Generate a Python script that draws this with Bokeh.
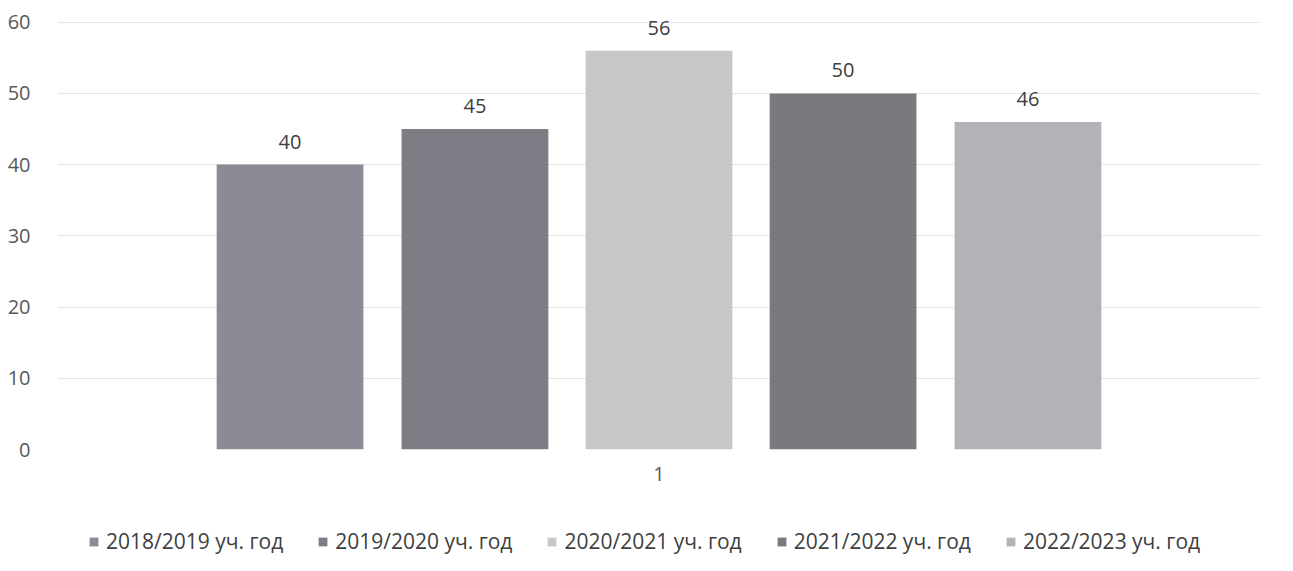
from bokeh.plotting import figure
from bokeh.models import ColumnDataSource, FactorRange, Range1d, FixedTicker, Legend
from bokeh.layouts import column
from bokeh.transform import dodge
from bokeh.core.properties import value
from bokeh.embed import file_html
from bokeh.resources import INLINE

categories = ["1"]
series_names = ["2018/2019 уч. год", "2019/2020 уч. год", "2020/2021 уч. год",
                "2021/2022 уч. год", "2022/2023 уч. год"]
series_values = [40, 45, 56, 50, 46]
y_ticks = [0, 10, 20, 30, 40, 50, 60]
colors = ["#8a8b94", "#7c7d85", "#c6c8c8", "#797a80", "#b1b3b6"]
offsets = [-0.3067, -0.153, 0.0, 0.153, 0.3067]
bar_width = 0.122

FONT = "Open Sans"

p = figure(width=1277, height=505, output_backend="svg", toolbar_location=None,
           x_range=FactorRange(factors=categories, range_padding=0),
           y_range=Range1d(0, 61.5),
           min_border_left=57, min_border_right=17, min_border_top=11, min_border_bottom=56)
p.outline_line_color = None
p.background_fill_color = "white"
p.border_fill_color = "white"

for i, (name, val) in enumerate(zip(series_names, series_values)):
    src = ColumnDataSource(dict(cat=categories, v=[val], lbl=[str(val)]))
    x = dodge("cat", offsets[i], range=p.x_range)
    p.vbar(x=x, top="v", width=bar_width, source=src, fill_color=colors[i],
           line_color=None)
    p.text(x=x, y="v", text="lbl", source=src, y_offset=-23, text_align="center",
           text_baseline="middle", text_font=value(FONT), text_font_size="20px",
           text_color="#404040")

p.yaxis.ticker = FixedTicker(ticks=y_ticks)
p.yaxis.axis_line_color = None
p.yaxis.major_tick_line_color = None
p.yaxis.minor_tick_line_color = None
p.yaxis.major_label_standoff = 21
p.yaxis.major_label_text_font = FONT
p.yaxis.major_label_text_font_size = "20px"
p.yaxis.major_label_text_color = "#595959"

p.xaxis.axis_line_color = None
p.xaxis.major_tick_line_color = None
p.xaxis.minor_tick_line_color = None
p.xaxis.major_tick_out = 0
p.xaxis.major_label_standoff = 17
p.xaxis.major_label_text_font = FONT
p.xaxis.major_label_text_font_size = "20px"
p.xaxis.major_label_text_color = "#595959"

p.xgrid.grid_line_color = None
p.ygrid.grid_line_color = "#e4e4e4"
p.ygrid.grid_line_width = 1

# legend strip below the chart (swatch renderers are hidden; legend still draws them)
p2 = figure(width=1277, height=50, output_backend="svg", toolbar_location=None,
            x_range=Range1d(0, 1), y_range=Range1d(0, 1),
            x_axis_location=None, y_axis_location=None,
            min_border_left=0, min_border_right=0, min_border_top=0, min_border_bottom=0)
p2.outline_line_color = None
p2.xgrid.grid_line_color = None
p2.ygrid.grid_line_color = None
p2.border_fill_color = "white"
items = []
for i, (name, val) in enumerate(zip(series_names, series_values)):
    src = ColumnDataSource(dict(x=[0.5], v=[val]))
    r = p2.vbar(x="x", top="v", width=0.1, source=src, fill_color=colors[i], line_color=None)
    r.visible = False
    items.append((name, [r]))

leg = Legend(items=items, orientation="horizontal", location=(31, 0))
leg.click_policy = "none"
leg.inactive_fill_alpha = 0
leg.padding = 3
leg.margin = 0
leg.spacing = 34
leg.glyph_width = 11
leg.glyph_height = 11
leg.label_standoff = 7
leg.label_height = 24
leg.label_text_font = FONT
leg.label_text_font_size = "21px"
leg.label_text_color = "#404040"
leg.border_line_color = None
leg.background_fill_alpha = 0
p2.add_layout(leg, "center")

layout = column(p, p2, spacing=0)
open("out.html", "w").write(file_html(layout, INLINE))
